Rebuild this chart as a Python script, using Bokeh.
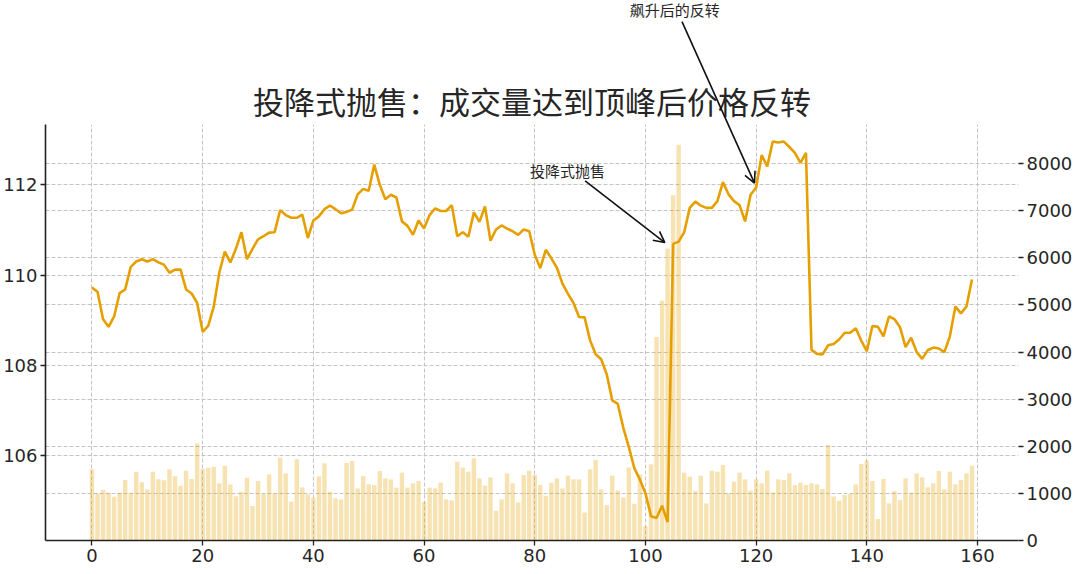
from bokeh.plotting import figure
from bokeh.models import Range1d, LinearAxis, FixedTicker, Grid, Label, Arrow, OpenHead
from bokeh.embed import file_html
from bokeh.resources import INLINE

days = list(range(160))

price = [
    109.72, 109.63, 109.02, 108.85, 109.08, 109.60, 109.68, 110.18, 110.30, 110.35,
    110.30, 110.35, 110.28, 110.23, 110.05, 110.12, 110.12, 109.68, 109.59, 109.38,
    108.74, 108.87, 109.30, 110.05, 110.52, 110.28, 110.58, 110.95, 110.35, 110.58,
    110.79, 110.86, 110.94, 110.95, 111.44, 111.33, 111.27, 111.27, 111.34, 110.82,
    111.21, 111.30, 111.46, 111.54, 111.46, 111.37, 111.40, 111.45, 111.79, 111.91,
    111.87, 112.45, 112.00, 111.68, 111.78, 111.72, 111.19, 111.09, 110.89, 111.21,
    111.03, 111.33, 111.48, 111.42, 111.42, 111.55, 110.86, 110.95, 110.85, 111.39,
    111.18, 111.52, 110.76, 111.01, 111.10, 111.03, 110.97, 110.89, 111.01, 110.97,
    110.45, 110.15, 110.56, 110.37, 110.16, 109.81, 109.58, 109.38, 109.07, 109.06,
    108.55, 108.24, 108.13, 107.80, 107.22, 107.14, 106.61, 106.18, 105.71, 105.46,
    105.16, 104.65, 104.61, 104.88, 104.52, 110.69, 110.74, 110.95, 111.49, 111.63,
    111.54, 111.49, 111.49, 111.64, 112.06, 111.79, 111.64, 111.55, 111.19, 111.78,
    111.94, 112.66, 112.41, 112.96, 112.94, 112.96, 112.84, 112.71, 112.49, 112.71,
    108.34, 108.25, 108.24, 108.44, 108.47, 108.57, 108.72, 108.72, 108.82, 108.54,
    108.31, 108.87, 108.85, 108.64, 109.08, 109.02, 108.84, 108.40, 108.61, 108.29,
    108.14, 108.33, 108.39, 108.37, 108.29, 108.64, 109.30, 109.15, 109.30, 109.90,
]

volume = [
    1511, 1000, 1071, 1014, 929, 1014, 1284, 1014, 1461, 1234,
    1085, 1461, 1298, 1277, 1511, 1362, 1163, 1482, 1305, 2057,
    1518, 1546, 1567, 1213, 1589, 1191, 940, 1035, 1333, 731,
    1262, 986, 1404, 1000, 1759, 1425, 823, 1723, 1128, 979,
    908, 1362, 1638, 1035, 894, 872, 1645, 1688, 1106, 1369,
    1191, 1177, 1475, 1319, 1298, 1121, 1440, 1121, 1213, 1262,
    823, 1121, 1106, 1227, 872, 851, 1674, 1546, 1461, 1745,
    1319, 1163, 1340, 631, 872, 1425, 1213, 809, 1390, 1482,
    1390, 1177, 950, 1227, 1319, 1106, 1376, 1298, 1298, 596,
    1511, 1709, 1085, 752, 1376, 1057, 915, 1553, 780, 1404,
    300, 1617, 4320, 5090, 6200, 7330, 8400, 1440, 1355, 1050,
    1376, 787, 1482, 1461, 1603, 1000, 1248, 1440, 1298, 1057,
    1298, 1213, 1482, 1021, 1298, 1284, 1425, 1177, 1227, 1177,
    1213, 1191, 1092, 2028, 936, 844, 965, 986, 1191, 1624,
    1695, 1262, 454, 1305, 787, 1050, 858, 1319, 1014, 1425,
    1340, 1128, 1213, 1475, 1085, 1461, 1191, 1284, 1425, 1589,
]

x_ticks = [0, 20, 40, 60, 80, 100, 120, 140, 160]
price_ticks = [104, 106, 108, 110, 112]
volume_ticks = [0, 1000, 2000, 3000, 4000, 5000, 6000, 7000, 8000]

title_text = "投降式抛售：成交量达到顶峰后价格反转"
ann1_text = "投降式抛售"
ann1_xy = (103.5, 110.72)
ann1_text_xy = (85.9, 112.31)
ann1_tail = (89.1, 112.09)
ann2_text = "飙升后的反转"
ann2_xy = (119.7, 112.04)
ann2_text_xy = (105.3, 115.90)
ann2_tail = (106.6, 115.62)

# axes box (in data units) and the headroom above it used by title/annotation
X0, X1 = -8.4, 167.4
P0, P1 = 104.11, 113.35
P_TOP = 116.09
V1 = 8840.0
V_TOP = V1 * (P_TOP - P0) / (P1 - P0)
TITLE_Y = 113.87

LINE_C = "#E69F00"
TXT = "#262626"
GRID_C = "#c4c4c4"

p = figure(width=1075, height=564, output_backend="svg", toolbar_location=None, title=None,
           x_range=Range1d(X0, X1), y_range=Range1d(P0, P_TOP),
           min_border_left=38, min_border_right=0, min_border_top=0, min_border_bottom=0)
p.extra_y_ranges = {"vol": Range1d(0, V_TOP)}
p.outline_line_color = None
p.background_fill_color = "white"
p.border_fill_color = "white"

p.vbar(x=days, top=volume, width=0.8, bottom=0, y_range_name="vol",
       fill_color=LINE_C, fill_alpha=0.3, line_color=None)
p.line(days, price, line_color=LINE_C, line_width=2.6)

left = p.yaxis[0]
left.ticker = FixedTicker(ticks=price_ticks)
left.bounds = (P0, P1)
bottom = p.xaxis[0]
bottom.ticker = FixedTicker(ticks=x_ticks)

right = LinearAxis(y_range_name="vol", ticker=FixedTicker(ticks=volume_ticks))
p.add_layout(right, "right")

for ax in (left, bottom, right):
    ax.major_label_text_font = "DejaVu Sans"
    ax.major_label_text_font_size = "18px"
    ax.major_label_text_color = TXT
    ax.major_tick_in = 0
    ax.major_tick_out = 5
    ax.major_tick_line_color = "#222222"
    ax.major_tick_line_width = 1.3
    ax.minor_tick_line_color = None
    ax.axis_line_color = "#222222"
    ax.axis_line_width = 1.6
    ax.major_label_standoff = 3
    ax.axis_label_standoff = 0
right.axis_line_color = None

for g in (p.xgrid[0], p.ygrid[0]):
    g.grid_line_color = GRID_C
    g.grid_line_dash = "4 2"
    g.grid_line_width = 1
p.xgrid[0].cross_bounds = (P0, P1)
vgrid = Grid(dimension=1, axis=right, ticker=right.ticker, y_range_name="vol",
             grid_line_color=GRID_C, grid_line_dash="4 2", grid_line_width=1)
p.add_layout(vgrid)

p.add_layout(Label(x=(X0 + X1) / 2, y=TITLE_Y, text=title_text, text_font="Noto Sans CJK SC",
                   text_font_size="31px", text_color=TXT,
                   text_align="center", text_baseline="middle"))

for txt, txy, tail, tip in ((ann1_text, ann1_text_xy, ann1_tail, ann1_xy),
                            (ann2_text, ann2_text_xy, ann2_tail, ann2_xy)):
    p.add_layout(Label(x=txy[0], y=txy[1], text=txt, text_font="Noto Sans CJK SC",
                       text_font_size="15px", text_color=TXT,
                       text_align="center", text_baseline="middle"))
    p.add_layout(Arrow(x_start=tail[0], y_start=tail[1], x_end=tip[0], y_end=tip[1],
                       line_color="#111111", line_width=1.6,
                       end=OpenHead(size=11, line_color="#111111", line_width=1.6)))

open("out.html", "w").write(file_html(p, INLINE))
